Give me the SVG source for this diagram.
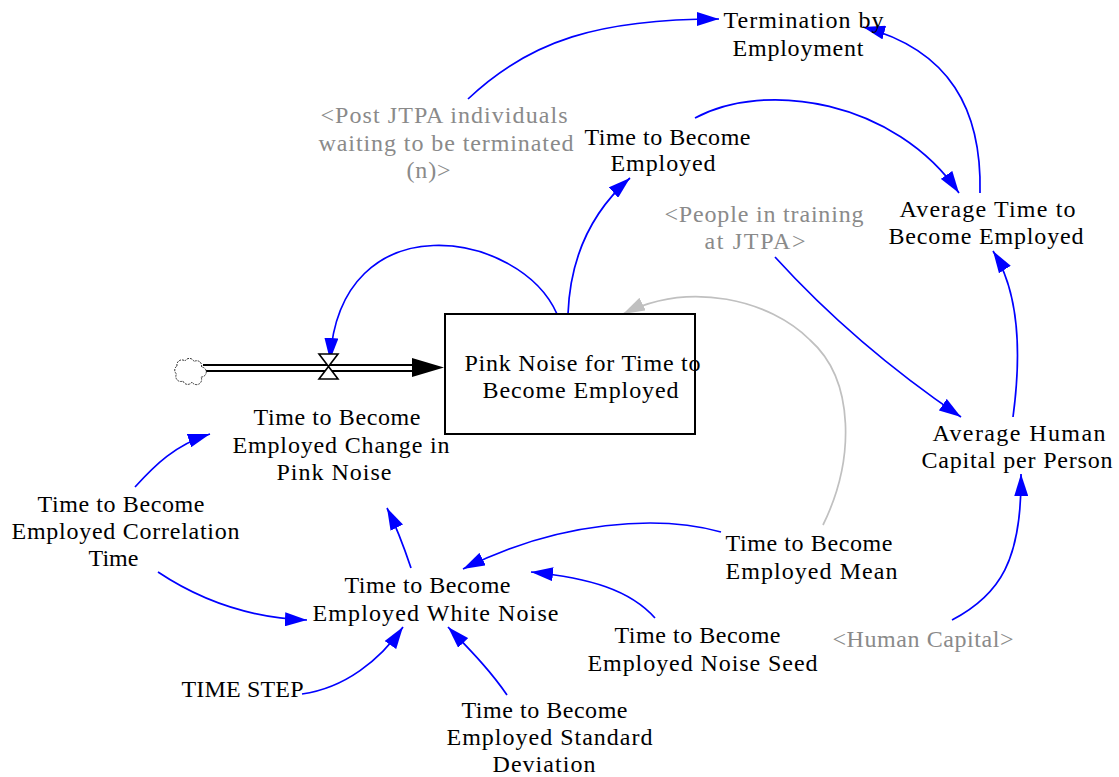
<svg xmlns="http://www.w3.org/2000/svg" width="1119" height="777" viewBox="0 0 1119 777" font-family="'Liberation Serif', 'Times New Roman', 'DejaVu Serif', serif">
  <style>
    text { font-family: 'Liberation Serif', 'Times New Roman', 'DejaVu Serif', serif; font-size: 24px; text-anchor: middle; fill: #000; }
    .shadow text { fill: #8a8a8a; }
    .link { fill: none; stroke: #0000ff; stroke-width: 1.7; marker-end: url(#head); }
    .link.grey { stroke: #c0c0c0; marker-end: url(#headGrey); }
    .stock { fill: #fff; stroke: #000; stroke-width: 2; }
    .valve { fill: #fff; stroke: #000; stroke-width: 1.6; stroke-linejoin: miter; }
    .cloud { fill: #fff; stroke: #333; stroke-width: 1; stroke-dasharray: 2 1; }
  </style>
  <defs>
    <marker id="head" markerUnits="userSpaceOnUse" viewBox="0 0 22 14" refX="22" refY="7" markerWidth="22" markerHeight="14" orient="auto">
      <path d="M0,0 L22,7 L0,14 Z" fill="#0000ff"/>
    </marker>
    <marker id="headGrey" markerUnits="userSpaceOnUse" viewBox="0 0 22 14" refX="22" refY="7" markerWidth="22" markerHeight="14" orient="auto">
      <path d="M0,0 L22,7 L0,14 Z" fill="#c0c0c0"/>
    </marker>
  </defs>

  <rect width="1119" height="777" fill="#fff"/>

  <!-- flow pipe into the stock -->
  <g id="flow-pipe">
    <line x1="203" y1="368" x2="414" y2="368" stroke="#000" stroke-width="8"/>
    <line x1="201" y1="368" x2="416" y2="368" stroke="#fff" stroke-width="4"/>
    <path d="M412,358 L444,367.5 L412,377 Z" fill="#000"/>
  </g>

  <g id="source-cloud">
    <path class="cloud" d="M177,366 A5,5 0 0,1 185,361 A5,5 0 0,1 194,361.5 A5,5 0 0,1 201.5,367 A5,5 0 0,1 201,377 A5,5 0 0,1 192,382 A5,5 0 0,1 183,381 A5,5 0 0,1 176.5,374 A5,5 0 0,1 177,366 Z"/>
  </g>

  <!-- connectors -->
  <g id="connectors">
    <path class="link" d="M468,99 C530,40 600,19 719,19"/>
    <path class="link" d="M980,193 C982,110 950,50 863,27"/>
    <path class="link" d="M695,118 C765,80 895,100 959,193"/>
    <path class="link" d="M568,314 C570,262 588,215 630,178"/>
    <path class="link" d="M557,314 C520,230 340,200 330,360"/>
    <path class="link" d="M775,257 Q855,345 961,417"/>
    <path class="link" d="M1013,417 C1022,350 1018,290 993,251"/>
    <path class="link" d="M952,620 C1000,595 1022,560 1021,474"/>
    <path class="link" d="M721,532 C660,515 560,520 463,569"/>
    <path class="link" d="M655,618 C630,590 590,578 531,572"/>
    <path class="link" d="M507,695 C490,670 470,650 448,627"/>
    <path class="link" d="M302,694 C345,688 380,660 403,627"/>
    <path class="link" d="M411,568 C405,550 398,530 387,508"/>
    <path class="link" d="M135,487 C155,465 175,445 210,434"/>
    <path class="link" d="M158,572 C200,600 250,618 307,620"/>
    <path class="link grey" d="M823,525 C855,460 855,380 810,340 C770,300 690,280 623,314"/>
  </g>

  <g id="valve">
    <path class="valve" d="M319,354 L338,354 L319,379 L338,379 Z"/>
  </g>

  <g id="pink-noise-stock">
    <rect class="stock" x="445" y="314" width="250" height="120"/>
    <text x="582.5" y="371" textLength="236" lengthAdjust="spacing">Pink Noise for Time to</text>
    <text x="580.5" y="398" textLength="196" lengthAdjust="spacing">Become Employed</text>
  </g>

  <g id="termination-by-employment">
    <text x="803.5" y="28" textLength="160" lengthAdjust="spacing">Termination by</text>
    <text x="798" y="56" textLength="131" lengthAdjust="spacing">Employment</text>
  </g>

  <g id="post-jtpa-waiting" class="shadow">
    <text x="444" y="123" textLength="247" lengthAdjust="spacing">&lt;Post JTPA individuals</text>
    <text x="446" y="151" textLength="255" lengthAdjust="spacing">waiting to be terminated</text>
    <text x="428.5" y="178" textLength="44" lengthAdjust="spacing">(n)&gt;</text>
  </g>

  <g id="time-to-become-employed">
    <text x="667.5" y="145" textLength="166" lengthAdjust="spacing">Time to Become</text>
    <text x="663" y="171" textLength="105" lengthAdjust="spacing">Employed</text>
  </g>

  <g id="people-in-training" class="shadow">
    <text x="764" y="222" textLength="199" lengthAdjust="spacing">&lt;People in training</text>
    <text x="755" y="249" textLength="101" lengthAdjust="spacing">at JTPA&gt;</text>
  </g>

  <g id="average-time-to-become-employed">
    <text x="987.5" y="217" textLength="176" lengthAdjust="spacing">Average Time to</text>
    <text x="986" y="244" textLength="195" lengthAdjust="spacing">Become Employed</text>
  </g>

  <g id="change-in-pink-noise">
    <text x="337" y="425" textLength="167" lengthAdjust="spacing">Time to Become</text>
    <text x="341" y="453" textLength="217" lengthAdjust="spacing">Employed Change in</text>
    <text x="334" y="480" textLength="115" lengthAdjust="spacing">Pink Noise</text>
  </g>

  <g id="correlation-time">
    <text x="121" y="512" textLength="167" lengthAdjust="spacing">Time to Become</text>
    <text x="125.5" y="539" textLength="228" lengthAdjust="spacing">Employed Correlation</text>
    <text x="113.5" y="566" textLength="50" lengthAdjust="spacing">Time</text>
  </g>

  <g id="white-noise">
    <text x="427.5" y="593" textLength="166" lengthAdjust="spacing">Time to Become</text>
    <text x="435.5" y="621" textLength="246" lengthAdjust="spacing">Employed White Noise</text>
  </g>

  <g id="time-step">
    <text x="242.5" y="697" textLength="122" lengthAdjust="spacing">TIME STEP</text>
  </g>

  <g id="standard-deviation">
    <text x="544.5" y="718" textLength="166" lengthAdjust="spacing">Time to Become</text>
    <text x="549.5" y="745" textLength="206" lengthAdjust="spacing">Employed Standard</text>
    <text x="544" y="772" textLength="103" lengthAdjust="spacing">Deviation</text>
  </g>

  <g id="noise-seed">
    <text x="697.5" y="643" textLength="166" lengthAdjust="spacing">Time to Become</text>
    <text x="702.5" y="671" textLength="230" lengthAdjust="spacing">Employed Noise Seed</text>
  </g>

  <g id="mean">
    <text x="809" y="551" textLength="167" lengthAdjust="spacing">Time to Become</text>
    <text x="811.5" y="579" textLength="172" lengthAdjust="spacing">Employed Mean</text>
  </g>

  <g id="average-human-capital">
    <text x="1019" y="441" textLength="173" lengthAdjust="spacing">Average Human</text>
    <text x="1017" y="468" textLength="191" lengthAdjust="spacing">Capital per Person</text>
  </g>

  <g id="human-capital" class="shadow">
    <text x="923" y="647" textLength="181" lengthAdjust="spacing">&lt;Human Capital&gt;</text>
  </g>
</svg>
